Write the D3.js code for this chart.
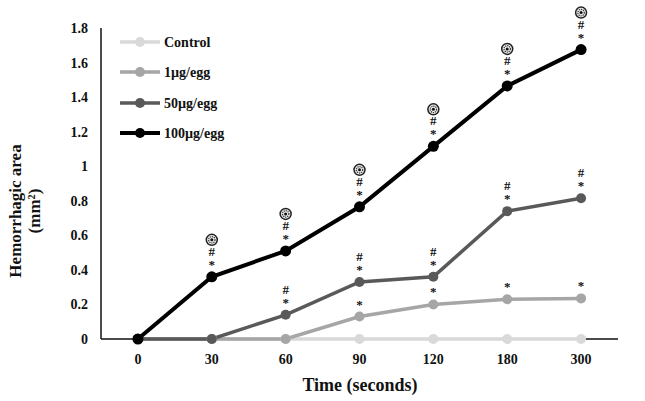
<!DOCTYPE html>
<html>
<head>
<meta charset="utf-8">
<script src="https://cdn.jsdelivr.net/npm/d3@7"></script>
<style>
  body { margin: 0; background: #fff; }
  text { font-family: "Liberation Serif", "Times New Roman", serif; font-weight: bold; fill: #111; }
  .sig { writing-mode: vertical-rl; text-orientation: upright; letter-spacing: -2px; }
</style>
</head>
<body>
<svg width="645" height="401"></svg>
<script>
const times = ["0", "30", "60", "90", "120", "180", "300"];
const yTicks = [0, 0.2, 0.4, 0.6, 0.8, 1, 1.2, 1.4, 1.6, 1.8];

const seriesNames = ["Control", "1\u00b5g/egg", "50\u00b5g/egg", "100\u00b5g/egg"];
const seriesColors = ["#d9d9d9", "#a6a6a6", "#595959", "#000000"];

const control = [0, 0, 0, 0, 0, 0, 0];
const dose1 = [0, 0, 0, 0.13, 0.2, 0.23, 0.235];
const dose50 = [0, 0, 0.14, 0.33, 0.36, 0.74, 0.815];
const dose100 = [0, 0.36, 0.51, 0.765, 1.115, 1.465, 1.675];

// significance marks: "*" vs control, "#" vs 1µg, circle vs 50µg
const marks1 = ["", "", "", "*", "*", "*", "*"];
const marks50 = ["", "", "*#", "*#", "*#", "*#", "*#"];
const marks100 = ["", "*#o", "*#o", "*#o", "*#o", "*#o", "*#o"];

const series = [control, dose1, dose50, dose100];
const marks = [null, marks1, marks50, marks100];

const svg = d3.select("svg");

const x = d3.scalePoint().domain(times).range([101, 618]).padding(0.5);
const y = d3.scaleLinear().domain([0, 1.8]).range([339, 28]);

// y axis
svg.append("line")
  .attr("x1", 101).attr("x2", 101)
  .attr("y1", y(1.8)).attr("y2", y(0))
  .attr("stroke", "#111").attr("stroke-width", 1.5);

svg.selectAll(".ytick")
  .data(yTicks)
  .enter().append("text")
  .attr("class", "ytick")
  .attr("x", 88)
  .attr("y", d => y(d) + 5)
  .attr("text-anchor", "end")
  .attr("font-size", 14)
  .text(d => d);

// x axis
svg.append("line")
  .attr("x1", 101).attr("x2", 618)
  .attr("y1", y(0)).attr("y2", y(0))
  .attr("stroke", "#111").attr("stroke-width", 1.5);

svg.selectAll(".xtick")
  .data(times)
  .enter().append("text")
  .attr("class", "xtick")
  .attr("x", d => x(d))
  .attr("y", 364)
  .attr("text-anchor", "middle")
  .attr("font-size", 14)
  .text(d => d);

svg.append("text")
  .attr("x", 360).attr("y", 391)
  .attr("text-anchor", "middle")
  .attr("font-size", 18)
  .text("Time (seconds)");

// y title
const yt = svg.append("text")
  .attr("transform", "translate(21,211) rotate(-90)")
  .attr("text-anchor", "middle")
  .attr("font-size", 17);
yt.append("tspan").attr("x", 0).attr("dy", 0).text("Hemorrhagic area");
yt.append("tspan").attr("x", 0).attr("dy", 19).text("(mm\u00b2)");

// lines
const line = d3.line()
  .x((d, i) => x(times[i]))
  .y(d => y(d));

series.forEach((s, k) => {
  svg.append("path")
    .datum(s)
    .attr("fill", "none")
    .attr("stroke", seriesColors[k])
    .attr("stroke-width", k === 3 ? 4 : 3.5)
    .attr("d", line);
});

series.forEach((s, k) => {
  svg.selectAll(".pt" + k)
    .data(s)
    .enter().append("circle")
    .attr("cx", (d, i) => x(times[i]))
    .attr("cy", d => y(d))
    .attr("r", k === 3 ? 5.5 : 5)
    .attr("fill", seriesColors[k]);
});

// significance marks: one stacked text per point, "#" above "*"
marks.forEach((m, k) => {
  if (!m) return;
  m.forEach((code, i) => {
    if (!code) return;
    const cx = x(times[i]);
    const cy = y(series[k][i]);
    const label = code.includes("#") ? "#*" : "*";
    svg.append("text")
      .attr("class", "sig")
      .attr("x", cx)
      .attr("y", cy - 7)
      .attr("text-anchor", "end")
      .attr("font-size", 13)
      .text(label);
    if (code.includes("o")) {
      const g = svg.append("g").attr("transform", `translate(${cx},${cy - 37})`);
      g.append("circle").attr("r", 5.5).attr("fill", "#e8e8e8")
        .attr("stroke", "#222").attr("stroke-width", 1.5);
      g.append("circle").attr("r", 3.2).attr("fill", "none")
        .attr("stroke", "#333").attr("stroke-width", 1.2)
        .attr("stroke-dasharray", "1.2,0.9");
      g.append("circle").attr("r", 1.5).attr("fill", "#111");
    }
  });
});

// legend
const legendY = [42, 72, 103, 133];
seriesNames.forEach((name, k) => {
  const g = svg.append("g").attr("transform", `translate(0,${legendY[k]})`);
  g.append("line")
    .attr("x1", 120).attr("x2", 160)
    .attr("stroke", seriesColors[k]).attr("stroke-width", k === 3 ? 4 : 3.5);
  g.append("circle").attr("cx", 140).attr("r", 5).attr("fill", seriesColors[k]);
  g.append("text")
    .attr("x", 164).attr("y", 5)
    .attr("font-size", 14)
    .text(name);
});
</script>
</body>
</html>
